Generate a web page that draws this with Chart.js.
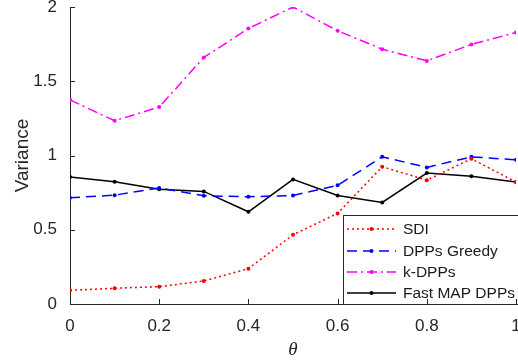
<!DOCTYPE html>
<html>
<head>
<meta charset="utf-8">
<script src="https://cdn.jsdelivr.net/npm/chart.js@4/dist/chart.umd.min.js"></script>
<style>
  html, body { margin: 0; padding: 0; background: #fff; }
  #wrap { width: 518px; height: 364px; }
</style>
</head>
<body>
<div id="wrap"><canvas id="c" width="518" height="364"></canvas></div>
<script>
// θ values along the horizontal axis
const thetas = [0, 0.1, 0.2, 0.3, 0.4, 0.5, 0.6, 0.7, 0.8, 0.9, 1.0];

// Variance per method
const sdi        = [0.092, 0.106, 0.117, 0.155, 0.238, 0.466, 0.610, 0.924, 0.834, 0.978, 0.821];
const dppsGreedy = [0.715, 0.733, 0.781, 0.729, 0.722, 0.731, 0.799, 0.991, 0.920, 0.991, 0.971];
const kDpps      = [1.375, 1.234, 1.326, 1.660, 1.855, 2.000, 1.840, 1.716, 1.637, 1.748, 1.828];
const fastMap    = [0.855, 0.823, 0.772, 0.758, 0.621, 0.839, 0.731, 0.684, 0.882, 0.861, 0.821];

const xTicks = [0, 0.2, 0.4, 0.6, 0.8, 1];
const yTicks = [0, 0.5, 1, 1.5, 2];

const seriesNames = ['SDI', 'DPPs Greedy', 'k-DPPs', 'Fast MAP DPPs'];

const AXIS = '#262626';
const SANS = '"Liberation Sans", Arial, Helvetica, sans-serif';

function pts(values) {
  return thetas.map((t, i) => ({ x: t, y: values[i] }));
}

function series(label, values, color, dash) {
  return {
    label, data: pts(values),
    borderColor: color, backgroundColor: color,
    borderWidth: 1.5, borderDash: dash,
    pointRadius: 2, pointHoverRadius: 2, pointBorderWidth: 0,
    pointBackgroundColor: color,
    tension: 0, fill: false
  };
}

// Boxed legend inside the lower-right of the plot
const boxLegend = {
  id: 'boxLegend',
  afterDatasetsDraw(chart) {
    const ctx = chart.ctx;
    const area = chart.chartArea;
    const left = 343, top = 215;
    const right = chart.width + 5, bottom = area.bottom;
    ctx.save();
    ctx.fillStyle = '#fff';
    ctx.fillRect(left, top, right - left, bottom - top);
    ctx.strokeStyle = AXIS;
    ctx.lineWidth = 1;
    ctx.strokeRect(left + 0.5, top + 0.5, right - left, bottom - top);
    const rows = [229, 251, 272, 293];
    chart.data.datasets.forEach((ds, i) => {
      const y = rows[i];
      ctx.strokeStyle = ds.borderColor;
      ctx.lineWidth = ds.borderWidth;
      ctx.setLineDash(ds.borderDash || []);
      ctx.beginPath();
      ctx.moveTo(347, y);
      ctx.lineTo(396, y);
      ctx.stroke();
      ctx.setLineDash([]);
      ctx.fillStyle = ds.borderColor;
      ctx.beginPath();
      ctx.arc(371.5, y, 2, 0, Math.PI * 2);
      ctx.fill();
      ctx.fillStyle = '#1a1a1a';
      ctx.font = '15.5px ' + SANS;
      ctx.textBaseline = 'middle';
      ctx.textAlign = 'left';
      ctx.fillText(ds.label, 403, y + 1);
    });
    ctx.restore();
  }
};

// Inward tick marks on both axes
const inwardTicks = {
  id: 'inwardTicks',
  afterDraw(chart) {
    const ctx = chart.ctx;
    const { x, y } = chart.scales;
    const area = chart.chartArea;
    ctx.save();
    ctx.strokeStyle = AXIS;
    ctx.lineWidth = 1;
    ctx.beginPath();
    xTicks.forEach(v => {
      const px = Math.round(x.getPixelForValue(v)) + 0.5;
      ctx.moveTo(px, area.bottom);
      ctx.lineTo(px, area.bottom - 5);
    });
    yTicks.forEach(v => {
      const py = Math.round(y.getPixelForValue(v)) + 0.5;
      ctx.moveTo(area.left, py);
      ctx.lineTo(area.left + 5, py);
    });
    ctx.stroke();
    ctx.restore();
  }
};

const plainLabel = v => String(v);

new Chart(document.getElementById('c'), {
  type: 'line',
  data: {
    datasets: [
      series(seriesNames[0], sdi, '#ff0000', [2, 3]),
      series(seriesNames[1], dppsGreedy, '#0000ff', [10, 6]),
      series(seriesNames[2], kDpps, '#ff00ff', [10, 4, 2, 4]),
      series(seriesNames[3], fastMap, '#000000', [])
    ]
  },
  options: {
    responsive: false,
    animation: false,
    devicePixelRatio: 1,
    layout: { padding: { top: 7, right: 2, left: 0, bottom: 0 } },
    plugins: { legend: { display: false }, tooltip: { enabled: false } },
    elements: { line: { borderCapStyle: 'butt' } },
    scales: {
      x: {
        type: 'linear', min: 0, max: 1,
        afterBuildTicks: s => { s.ticks = xTicks.map(v => ({ value: v })); },
        afterFit: s => { s.height = 60; s.paddingLeft = 0; s.paddingRight = 0; },
        grid: { drawOnChartArea: false, drawTicks: false },
        border: { display: true, color: AXIS, width: 1 },
        ticks: { color: AXIS, font: { family: SANS, size: 17 }, padding: 12, maxRotation: 0, callback: plainLabel },
        title: {
          display: true, text: 'θ', color: AXIS,
          font: { family: '"Liberation Serif", "Times New Roman", serif', style: 'italic', size: 19 },
          padding: { top: 0, bottom: 3 }
        }
      },
      y: {
        type: 'linear', min: 0, max: 2,
        afterBuildTicks: s => { s.ticks = yTicks.map(v => ({ value: v })); },
        afterFit: s => { s.width = 70; s.paddingTop = 0; s.paddingBottom = 0; },
        grid: { drawOnChartArea: false, drawTicks: false },
        border: { display: true, color: AXIS, width: 1 },
        ticks: { color: AXIS, font: { family: SANS, size: 17 }, padding: 13, callback: plainLabel },
        title: {
          display: true, text: 'Variance', color: AXIS,
          font: { family: SANS, size: 19 },
          padding: { top: 11, bottom: 0 }
        }
      }
    }
  },
  plugins: [boxLegend, inwardTicks]
});
</script>
</body>
</html>
